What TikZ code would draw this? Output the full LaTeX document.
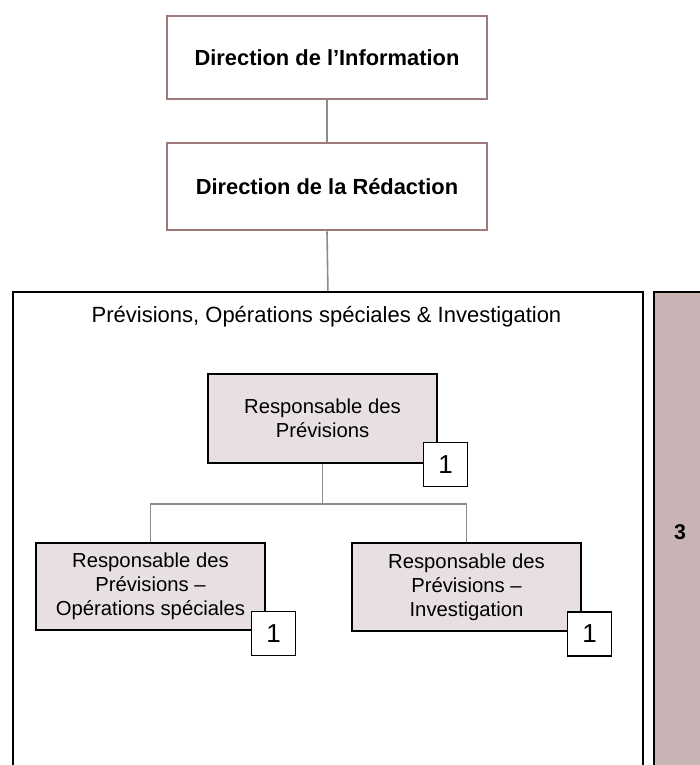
\documentclass[tikz,border=0pt]{standalone}
\usepackage{fontspec}
\setmainfont{Liberation Sans}
\definecolor{headline}{RGB}{158,122,122}
\definecolor{rolefill}{RGB}{232,224,224}
\definecolor{colfill}{RGB}{200,180,180}
\definecolor{linkgrey}{RGB}{140,140,140}
\begin{document}
\begin{tikzpicture}[x=0.75pt,y=-0.75pt,
  txt/.style={font=\fontsize{15.2}{18}\selectfont, align=center, text=black},
  headbox/.style={draw=headline, line width=2.2pt, fill=white,
    minimum width=320*0.75pt, inner sep=0pt,
    font=\bfseries\fontsize{16.4}{18}\selectfont},
  rolebox/.style={draw=black, line width=1.5pt, fill=rolefill,
    minimum width=229*0.75pt, inner sep=0pt, txt},
  badge/.style={draw=black, line width=1.1pt, fill=white,
    minimum size=44*0.75pt, inner sep=0pt, font=\fontsize{19.5}{19.5}\selectfont},
  link/.style={draw=linkgrey, line width=1.2pt},
  panel/.style={draw=black, line width=1.4pt, anchor=north west,
    minimum height=489*0.75pt, inner sep=0pt}
]
\useasboundingbox (0,0) rectangle (700,765);
\clip (0,0) rectangle (700,765);

% management boxes
\node[headbox, minimum height=83*0.75pt] (dinfo) at (327,57.5) {Direction de l’Information};
\node[headbox, minimum height=87*0.75pt] (dred) at (327,186.5) {Direction de la Rédaction};

% department panel and side column
\node[panel, minimum width=630*0.75pt] (frame) at (12,291) {};
\node[panel, fill=colfill, minimum width=60*0.75pt] (col) at (653,291) {};
\node[font=\bfseries\fontsize{16}{16}\selectfont] (total) at (680,532) {3};
\node[txt, font=\fontsize{16.5}{18}\selectfont] (title) at (326.5,317) {Prévisions, Opérations spéciales \& Investigation};

% roles
\node[rolebox, minimum height=89*0.75pt] (resp) at (322.5,418.5) {Responsable des\\Prévisions};
\node[rolebox, minimum height=87*0.75pt] (respops) at (150.5,586.5) {Responsable des\\Prévisions –\\Opérations spéciales};
\node[rolebox, minimum height=88*0.75pt] (respinv) at (466.5,587) {Responsable des\\Prévisions –\\Investigation};

% connectors
\draw[link] (dinfo.south) -- (dred.north);
\draw[link] (dred.south) -- (frame.north);
\draw[link] (resp.south) -- ++(0,40) -| (respops.north);
\draw[link] (resp.south) -- ++(0,40) -| (respinv.north);

% head counts
\node[badge] (nresp) at (445.5,464.5) {1};
\node[badge] (nops) at (273.5,633.5) {1};
\node[badge] (ninv) at (589.5,634) {1};
\end{tikzpicture}
\end{document}
